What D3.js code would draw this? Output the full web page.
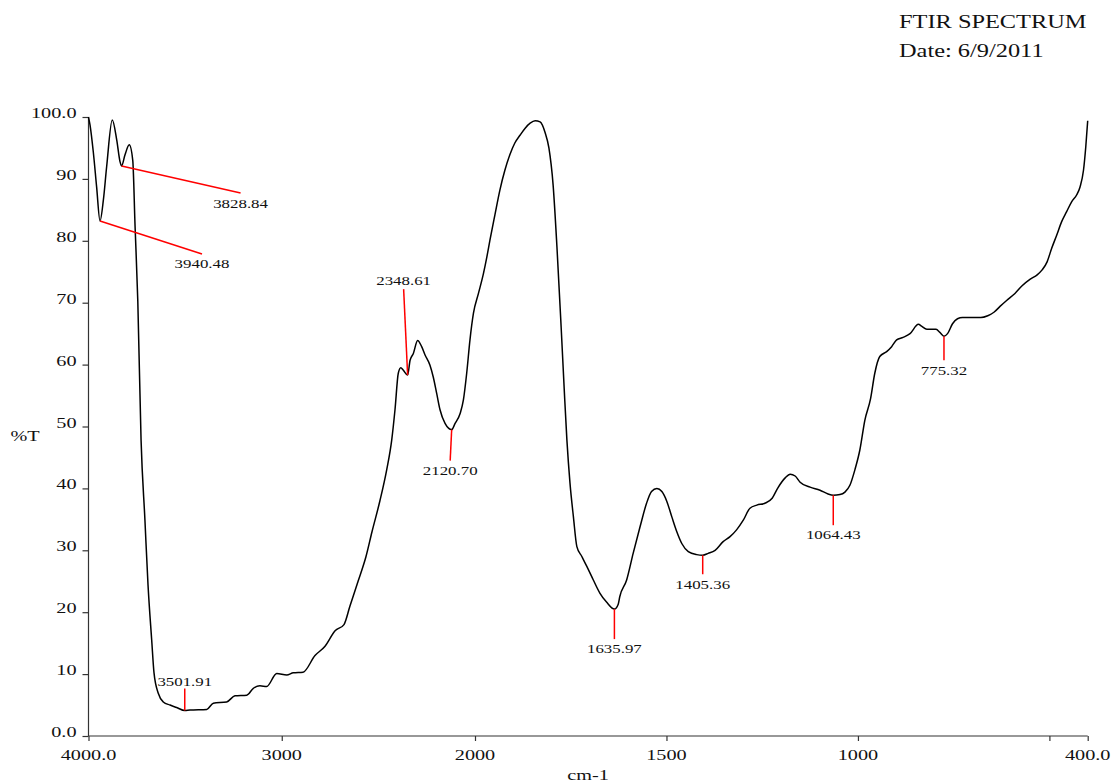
<!DOCTYPE html>
<html>
<head>
<meta charset="utf-8">
<script src="https://cdn.jsdelivr.net/npm/d3@7"></script>
<style>
  html, body { margin: 0; padding: 0; background: #fff; }
  svg { display: block; }
  text { font-family: "Liberation Serif", "Times New Roman", serif; fill: #111; }
</style>
</head>
<body>
<svg id="chart" width="1113" height="784"></svg>
<script>
// Spectrum: wavenumber (cm-1) and transmittance (%T)
const wavenumber = [
  4000, 3992, 3975, 3958, 3940.48, 3923, 3906, 3877, 3854, 3837, 3828.84, 3811, 3789, 3771, 3759, 3745,
  3728, 3708, 3692, 3673, 3661, 3639, 3613, 3578, 3544, 3501.91, 3475, 3388, 3354, 3285, 3242, 3181,
  3147, 3113, 3078, 3026, 2974, 2940, 2890, 2828, 2776, 2724, 2678, 2647, 2605, 2564, 2533, 2492,
  2457, 2431, 2414, 2397, 2384, 2371, 2348.61, 2336, 2319, 2297, 2276, 2259, 2233, 2216, 2198, 2181,
  2155, 2120.70, 2103, 2077, 2060, 2043, 2026, 2008, 1991, 1978, 1969, 1961, 1948, 1935, 1922, 1909,
  1896, 1882, 1869, 1856, 1843, 1830, 1817, 1807, 1796, 1786, 1775, 1767, 1760, 1752, 1743, 1734,
  1721, 1708, 1691, 1674, 1656, 1635.97, 1626, 1622, 1604, 1587, 1569, 1552, 1539, 1525, 1512, 1499,
  1486, 1473, 1460, 1443, 1421, 1405.36, 1391, 1373, 1352, 1334, 1317, 1299, 1282, 1264, 1243, 1224,
  1209, 1190, 1177, 1164, 1151, 1125, 1099, 1078, 1064.43, 1047, 1034, 1021, 1008, 995, 982, 967,
  956, 943, 925, 912, 899, 882, 864, 842, 834, 820, 796, 786, 775.32, 766, 753, 740,
  727, 679, 661, 644, 629, 611, 590, 572, 550, 532, 519, 506, 494, 481, 468, 455,
  442, 429, 420, 411, 405, 400
];
const transmittance = [
  100, 98.7, 94.3, 88.7, 83.2, 86.6, 92.0, 99.5, 96.3, 92.8, 92.1, 93.9, 95.5, 93.0, 82.3, 70.4,
  47.8, 34.9, 24.4, 15.5, 10.2, 6.9, 5.5, 5.0, 4.6, 4.1, 4.2, 4.3, 5.3, 5.5, 6.5, 6.6,
  7.7, 8.1, 8.0, 10.1, 9.85, 10.2, 10.3, 13.0, 14.5, 17.0, 18.0, 21.0, 25.0, 29.0, 33.0, 38.0,
  43.0, 47.8, 52.7, 58.6, 59.5, 59.1, 58.3, 60.7, 61.8, 63.9, 62.9, 61.6, 59.9, 58.0, 55.3, 52.7,
  50.5, 49.5, 50.5, 52.1, 54.3, 58.6, 64.0, 68.3, 71.5, 74.7, 77.4, 80.1, 84.2, 88.2, 91.4, 93.9,
  95.8, 97.1, 98.2, 99.0, 99.4, 99.2, 97.5, 95.0, 89.0, 79.0, 66.0, 56.0, 47.8, 40.9, 35.4, 30.6,
  29.0, 27.4, 25.2, 23.1, 21.6, 20.5, 21.3, 22.5, 25.2, 29.5, 33.8, 37.6, 39.5, 40.0, 39.5, 37.9,
  35.4, 33.0, 31.1, 29.8, 29.3, 29.2, 29.5, 30.0, 31.4, 32.2, 33.3, 34.9, 36.8, 37.3, 37.6, 38.4,
  40.1, 41.7, 42.3, 42.0, 41.0, 40.2, 39.7, 39.1, 38.9, 39.0, 39.4, 40.5, 43.0, 46.2, 51.0, 54.5,
  58.6, 61.3, 62.1, 62.9, 64.0, 64.4, 65.0, 66.5, 66.2, 65.7, 65.7, 65.2, 64.6, 65.0, 66.6, 67.4,
  67.6, 67.6, 67.9, 68.5, 69.4, 70.4, 71.5, 72.7, 73.8, 74.5, 75.3, 76.6, 78.8, 80.9, 83.1, 84.7,
  86.3, 87.4, 88.7, 91.4, 95.2, 99.4
];

// Labelled peaks
const peakWavenumber = [3940.48, 3828.84, 3501.91, 2348.61, 2120.70, 1635.97, 1405.36, 1064.43, 775.32];
const peakTransmittance = [83.2, 92.1, 4.1, 58.3, 49.5, 20.5, 29.2, 38.9, 64.6];
const peakLabels = ["3940.48", "3828.84", "3501.91", "2348.61", "2120.70", "1635.97", "1405.36", "1064.43", "775.32"];

// Axis ticks
const xTickValues = [4000, 3000, 2000, 1500, 1000, 500, 400];
const xTickLabels = ["4000.0", "3000", "2000", "1500", "1000", "", "400.0"];
const yTickValues = [0, 10, 20, 30, 40, 50, 60, 70, 80, 90, 100];
const yTickLabels = ["0.0", "10", "20", "30", "40", "50", "60", "70", "80", "90", "100.0"];

const titleLines = ["FTIR SPECTRUM", "Date: 6/9/2011"];
const xAxisTitle = "cm-1";
const yAxisTitle = "%T";

// ---- layout ----
const plot = { left: 88.5, right: 1087.7, top: 117, bottom: 736 };
const stretch = 1.35;                 // horizontal stretch of the serif lettering
// leader line end offsets (px) and label baseline offset from the leader end
const leaders = [
  { dx: 102, dy: 33, ly: 14 },
  { dx: 119, dy: 27, ly: 15 },
  { dx: 0, dy: -22, ly: -3 },
  { dx: -4, dy: -86, ly: -4 },
  { dx: -1.5, dy: 31, ly: 14 },
  { dx: 0, dy: 30, ly: 14 },
  { dx: 0, dy: 19, ly: 15 },
  { dx: 0, dy: 30, ly: 14 },
  { dx: 0, dy: 24, ly: 15 }
];

const svg = d3.select("#chart");

// The wavenumber axis is expanded 2x below 2000 cm-1
const x = d3.scaleLinear().domain([4000, 2000, 400]).range([plot.left, 475, plot.right]);
const y = d3.scaleLinear().domain([0, 100]).range([plot.bottom, plot.top]);

function stretchedText(sel, px, py, str, size, anchor, sx) {
  return sel.append("text")
    .attr("transform", `translate(${px},${py}) scale(${sx},1)`)
    .attr("text-anchor", anchor)
    .style("font-size", size + "px")
    .text(str);
}

// Axes
const xAxis = d3.axisBottom(x)
  .tickValues(xTickValues)
  .tickSize(5)
  .tickFormat(() => "");
const xg = svg.append("g").attr("transform", `translate(0,${plot.bottom})`).call(xAxis);
xg.select(".domain").attr("d", `M${plot.left},0H${plot.right}`).attr("stroke", "#333").attr("stroke-width", 1.2);
xg.selectAll(".tick line").attr("stroke", "#333").attr("stroke-width", 1.2);

xTickValues.forEach((v, i) => {
  if (xTickLabels[i]) stretchedText(svg, x(v), plot.bottom + 24, xTickLabels[i], 15, "middle", stretch);
});

const yAxis = d3.axisLeft(y)
  .tickValues(yTickValues)
  .tickSize(6)
  .tickFormat(() => "");
const yg = svg.append("g").attr("transform", `translate(${plot.left},0)`).call(yAxis);
yg.select(".domain").attr("d", `M0,${plot.bottom}V${plot.top}`).attr("stroke", "#333").attr("stroke-width", 1.2);
yg.selectAll(".tick line").attr("stroke", "#333").attr("stroke-width", 1.2);

yTickValues.forEach((v, i) => {
  stretchedText(svg, plot.left - 12, y(v) + 1, yTickLabels[i], 15, "end", stretch);
});

// Axis titles
stretchedText(svg, (plot.left + plot.right) / 2, 780, xAxisTitle, 15, "middle", stretch);
stretchedText(svg, 25, 441, yAxisTitle, 15, "middle", stretch);

// Title block
stretchedText(svg, 899, 28, titleLines[0], 19.5, "start", 1.25);
stretchedText(svg, 899, 57, titleLines[1], 19.5, "start", 1.25);

// Spectrum trace
const points = wavenumber.map((w, i) => [w, transmittance[i]]);
const line = d3.line()
  .x(d => x(d[0]))
  .y(d => y(d[1]))
  .curve(d3.curveMonotoneX);
svg.append("path")
  .datum(points)
  .attr("fill", "none")
  .attr("stroke", "#000")
  .attr("stroke-width", 1.5)
  .attr("d", line);

// Peak markers
peakWavenumber.forEach((w, i) => {
  const px = x(w), py = y(peakTransmittance[i]);
  const L = leaders[i];
  const ex = px + L.dx, ey = py + L.dy;
  svg.append("line")
    .attr("x1", px).attr("y1", py)
    .attr("x2", ex).attr("y2", ey)
    .attr("stroke", "#ff0000")
    .attr("stroke-width", 1.5);
  stretchedText(svg, ex, ey + L.ly, peakLabels[i], 12.5, "middle", stretch);
});
</script>
</body>
</html>
